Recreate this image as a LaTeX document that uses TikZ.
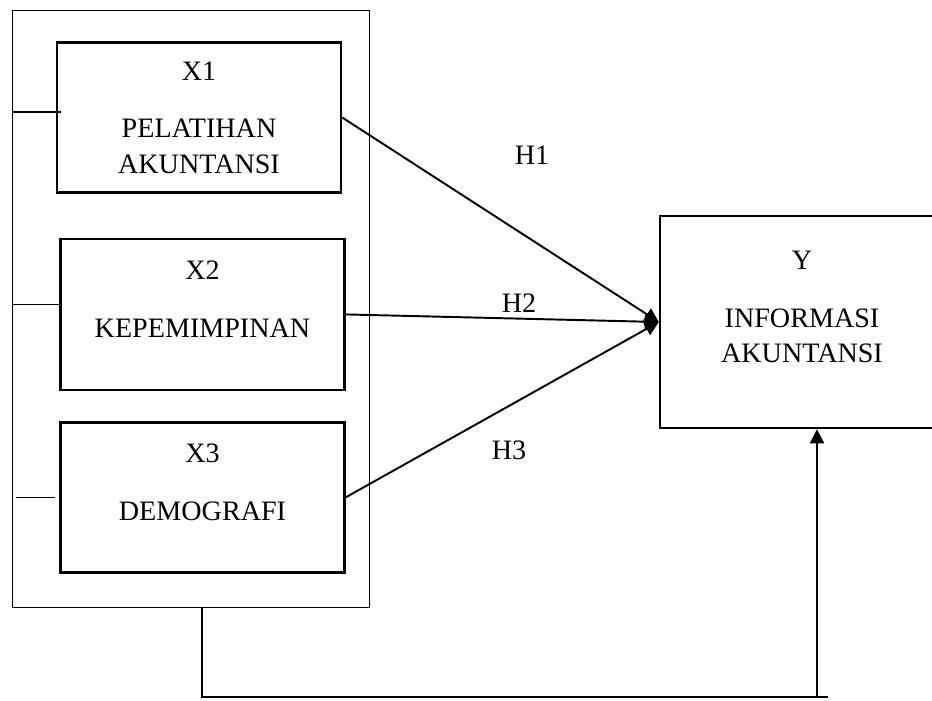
\documentclass[tikz,border=0pt]{standalone}
\usepackage{fontspec}
\setmainfont{Liberation Serif}
\usetikzlibrary{arrows.meta, positioning}
\tikzset{
  varbox/.style={rectangle, draw=black, line width=1.4pt, align=center,
    minimum width=5.68cm, minimum height=3cm,
    font=\fontsize{16}{20}\selectfont},
  raised/.style={text depth=0.6cm},
  hlabel/.style={font=\fontsize{16}{20}\selectfont},
  arrow/.style={-{Triangle[length=8pt,width=8pt]}, line width=1.1pt},
  line/.style={line width=0.8pt},
  tick/.style={line width=0.6pt}
}
\begin{document}
\begin{tikzpicture}[x=0.02cm, y=-0.02cm, node distance=0.88cm]
  \useasboundingbox (0,0) rectangle (932,700);
  \node[rectangle, draw, line width=0.6pt, minimum width=7.16cm,
    minimum height=11.96cm] (frame) at (191,309) {};
  \node[varbox] (x1) at (199,117.5) {X1\\[0.45cm]PELATIHAN\\AKUNTANSI};
  \node[varbox, raised, minimum height=3.02cm, below=0.88cm of x1, xshift=0.07cm] (x2)
    {X2\\[0.45cm]KEPEMIMPINAN};
  \node[varbox, raised, below=0.6cm of x2] (x3) {X3\\[0.45cm]DEMOGRAFI};
  \node[varbox, raised, minimum height=4.24cm] (y) at (802,322)
    {Y\\[0.45cm]INFORMASI\\AKUNTANSI};

  % ticks on the frame
  \draw[tick] ([yshift=0.11cm]x1.west -| frame.west) -- ([yshift=0.11cm, xshift=0.1cm]x1.west);
  \draw[tick] ([yshift=0.19cm]x2.west -| frame.west) -- ([yshift=0.19cm]x2.west);
  \draw[tick] ([xshift=0.08cm]x3.west -| frame.west) -- ([xshift=-0.08cm]x3.west);

  \draw[arrow] (x1.east) -- (y.west);
  \draw[arrow] (x2.east) -- (y.west);
  \draw[arrow] (x3.east) -- (y.west);
  \node[hlabel] (h1) at (532,155) {H1};
  \node[hlabel] (h2) at (519,303) {H2};
  \node[hlabel] (h3) at (509,450) {H3};

  \coordinate (foot) at (817,697);
  \draw[line] ([xshift=0.22cm]frame.south) |- ([xshift=0.22cm]foot);
  \draw[arrow] (foot) -- (foot |- y.south);
\end{tikzpicture}
\end{document}
